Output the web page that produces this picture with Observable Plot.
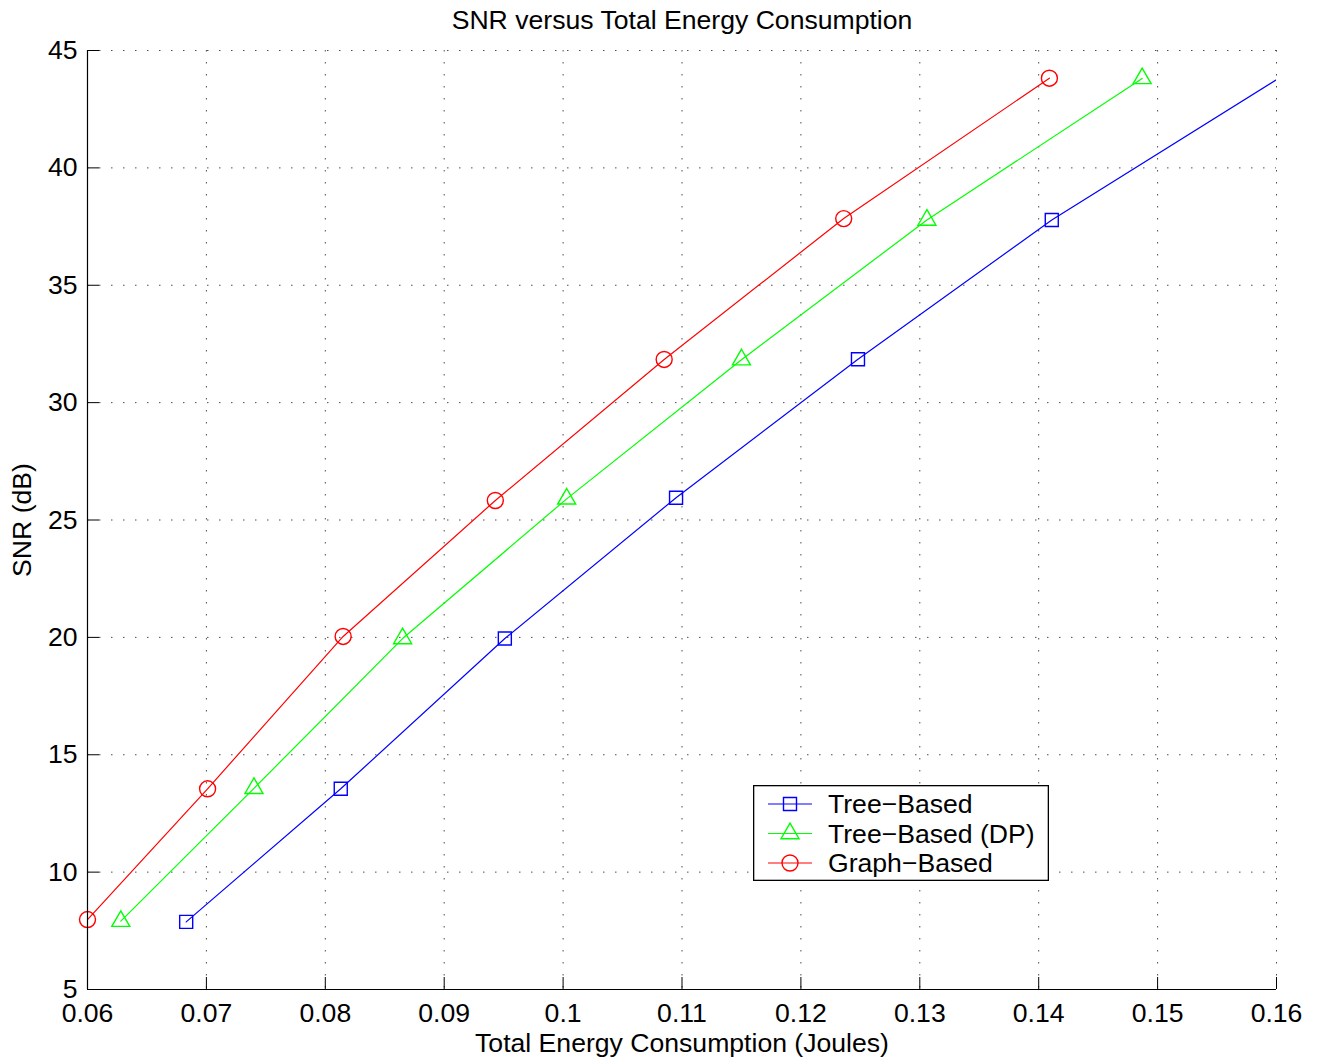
<!DOCTYPE html>
<html>
<head>
<meta charset="utf-8">
<script src="https://cdn.jsdelivr.net/npm/d3@7"></script>
<script src="https://cdn.jsdelivr.net/npm/@observablehq/plot@0.6"></script>
<style>
  body { margin: 0; background: #fff; }
  #wrap { position: relative; width: 1317px; height: 1061px; }
  #legend { position: absolute; left: 753px; top: 785px; }
</style>
</head>
<body>
<div id="wrap"></div>
<script>
// ---------- data ----------
const title = "SNR versus Total Energy Consumption";
const xLabel = "Total Energy Consumption (Joules)";
const yLabel = "SNR (dB)";
const seriesNames = ["Tree\u2212Based", "Tree\u2212Based (DP)", "Graph\u2212Based"];
const seriesColors = ["#0000ff", "#00ff00", "#ff0000"];
const seriesSymbols = ["square", "triangle", "circle"];

const energyTree   = [0.0683, 0.0813, 0.0951, 0.1095, 0.1248, 0.1411, 0.1603];
const snrTree      = [7.88, 13.55, 19.95, 25.95, 31.85, 37.78, 43.85];
const energyTreeDP = [0.0628, 0.0740, 0.0865, 0.1003, 0.1150, 0.1306, 0.1487];
const snrTreeDP    = [7.91, 13.57, 19.95, 25.9, 31.83, 37.78, 43.81];
const energyGraph  = [0.0600, 0.0701, 0.0815, 0.0943, 0.1085, 0.1236, 0.1409];
const snrGraph     = [7.98, 13.55, 20.04, 25.83, 31.84, 37.84, 43.82];

const xTicks = [0.06, 0.07, 0.08, 0.09, 0.10, 0.11, 0.12, 0.13, 0.14, 0.15, 0.16];
const yTicks = [5, 10, 15, 20, 25, 30, 35, 40, 45];
const xDomain = [0.06, 0.16];
const yDomain = [5, 45];

// ---------- symbols (MATLAB-like markers) ----------
function squarePath(ctx) { const s = 6.5; ctx.moveTo(-s, -s); ctx.lineTo(s, -s); ctx.lineTo(s, s); ctx.lineTo(-s, s); ctx.closePath(); }
function trianglePath(ctx) { const a = 9, h = a * Math.sqrt(3); ctx.moveTo(0, -2 * h / 3); ctx.lineTo(a, h / 3); ctx.lineTo(-a, h / 3); ctx.closePath(); }
function circlePath(ctx) { const r = 8; ctx.moveTo(r, 0); ctx.arc(0, 0, r, 0, 2 * Math.PI); ctx.closePath(); }
const symbolDefs = {
  square: { draw: (ctx) => squarePath(ctx) },
  triangle: { draw: (ctx) => trianglePath(ctx) },
  circle: { draw: (ctx) => circlePath(ctx) }
};
const pathFns = { square: squarePath, triangle: trianglePath, circle: circlePath };

const energies = [energyTree, energyTreeDP, energyGraph];
const snrs = [snrTree, snrTreeDP, snrGraph];
const series = seriesNames.map((name, i) => ({
  name, color: seriesColors[i], symbol: seriesSymbols[i],
  rows: energies[i].map((e, j) => ({ energy: e, snr: snrs[i][j] }))
}));

// ---------- layout ----------
const W = 1317, H = 1061, mL = 87, mR = 41, mT = 50, mB = 72;
const plotW = W - mL - mR, plotH = H - mT - mB;
const FS = 26.6;
const font = "'Liberation Sans', Arial, Helvetica, sans-serif";
const gridStyle = { stroke: "#000", strokeOpacity: 0.7, strokeWidth: 1, strokeDasharray: "1.5,10.5" };

const marks = [
  Plot.ruleX(xTicks, gridStyle),
  Plot.ruleY(yTicks, gridStyle)
];
for (const s of series) {
  marks.push(Plot.line(s.rows, { x: "energy", y: "snr", stroke: s.color, strokeWidth: 1.2, clip: true }));
  marks.push(Plot.dot(s.rows, {
    x: "energy", y: "snr", stroke: s.color, fill: "none", strokeWidth: 1.4,
    symbol: symbolDefs[s.symbol], r: 5,
    filter: d => d.energy >= xDomain[0] && d.energy <= xDomain[1]
  }));
}
marks.push(
  Plot.ruleX([xDomain[0]], { stroke: "#000", strokeWidth: 1.2 }),
  Plot.ruleY([yDomain[0]], { stroke: "#000", strokeWidth: 1.2 }),
  Plot.tickX(xTicks, { x: d => d, insetTop: plotH - 12, stroke: "#000", strokeWidth: 1 }),
  Plot.tickY(yTicks, { y: d => d, insetRight: plotW - 12, stroke: "#000", strokeWidth: 1 }),
  Plot.axisX(xTicks, { tickSize: 0, tickPadding: 14, label: null, fontSize: FS,
    tickFormat: d => String(Math.round(d * 100) / 100) }),
  Plot.axisY(yTicks, { tickSize: 0, tickPadding: 10, label: null, fontSize: FS }),
  Plot.text([title], { text: d => d, frameAnchor: "top", lineAnchor: "middle", textAnchor: "middle", dy: -30, fontSize: FS }),
  Plot.text([xLabel], { text: d => d, frameAnchor: "bottom", lineAnchor: "middle", textAnchor: "middle", dy: 54, fontSize: FS }),
  Plot.text([yLabel], { text: d => d, frameAnchor: "left", lineAnchor: "middle", textAnchor: "middle", dx: -65, rotate: -90, fontSize: FS })
);

const chart = Plot.plot({
  width: W, height: H,
  marginLeft: mL, marginRight: mR, marginTop: mT, marginBottom: mB,
  style: { fontFamily: font, fontSize: FS + "px", background: "#fff", color: "#000", overflow: "visible" },
  x: { domain: xDomain },
  y: { domain: yDomain },
  marks
});
const wrap = document.getElementById("wrap");
wrap.appendChild(chart);

// ---------- legend (overlay inside plot area) ----------
const lgW = 296, lgH = 96, rowY0 = 19, rowStep = 29.5;
const lg = d3.create("svg").attr("id", "legend").attr("width", lgW).attr("height", lgH)
  .style("font-family", font).style("font-size", FS + "px");
lg.append("rect").attr("x", 0.65).attr("y", 0.65).attr("width", lgW - 1.3).attr("height", lgH - 1.3)
  .attr("fill", "#fff").attr("stroke", "#000").attr("stroke-width", 1.3);
series.forEach((s, i) => {
  const cy = rowY0 + i * rowStep;
  lg.append("line").attr("x1", 15).attr("x2", 59).attr("y1", cy).attr("y2", cy)
    .attr("stroke", s.color).attr("stroke-width", 1.2);
  const p = d3.path(); pathFns[s.symbol](p);
  lg.append("path").attr("d", p.toString()).attr("transform", `translate(37,${cy})`)
    .attr("fill", "none").attr("stroke", s.color).attr("stroke-width", 1.4);
  lg.append("text").attr("x", 75).attr("y", cy).attr("dy", "0.35em").attr("fill", "#000").text(s.name);
});
wrap.appendChild(lg.node());
</script>
</body>
</html>
